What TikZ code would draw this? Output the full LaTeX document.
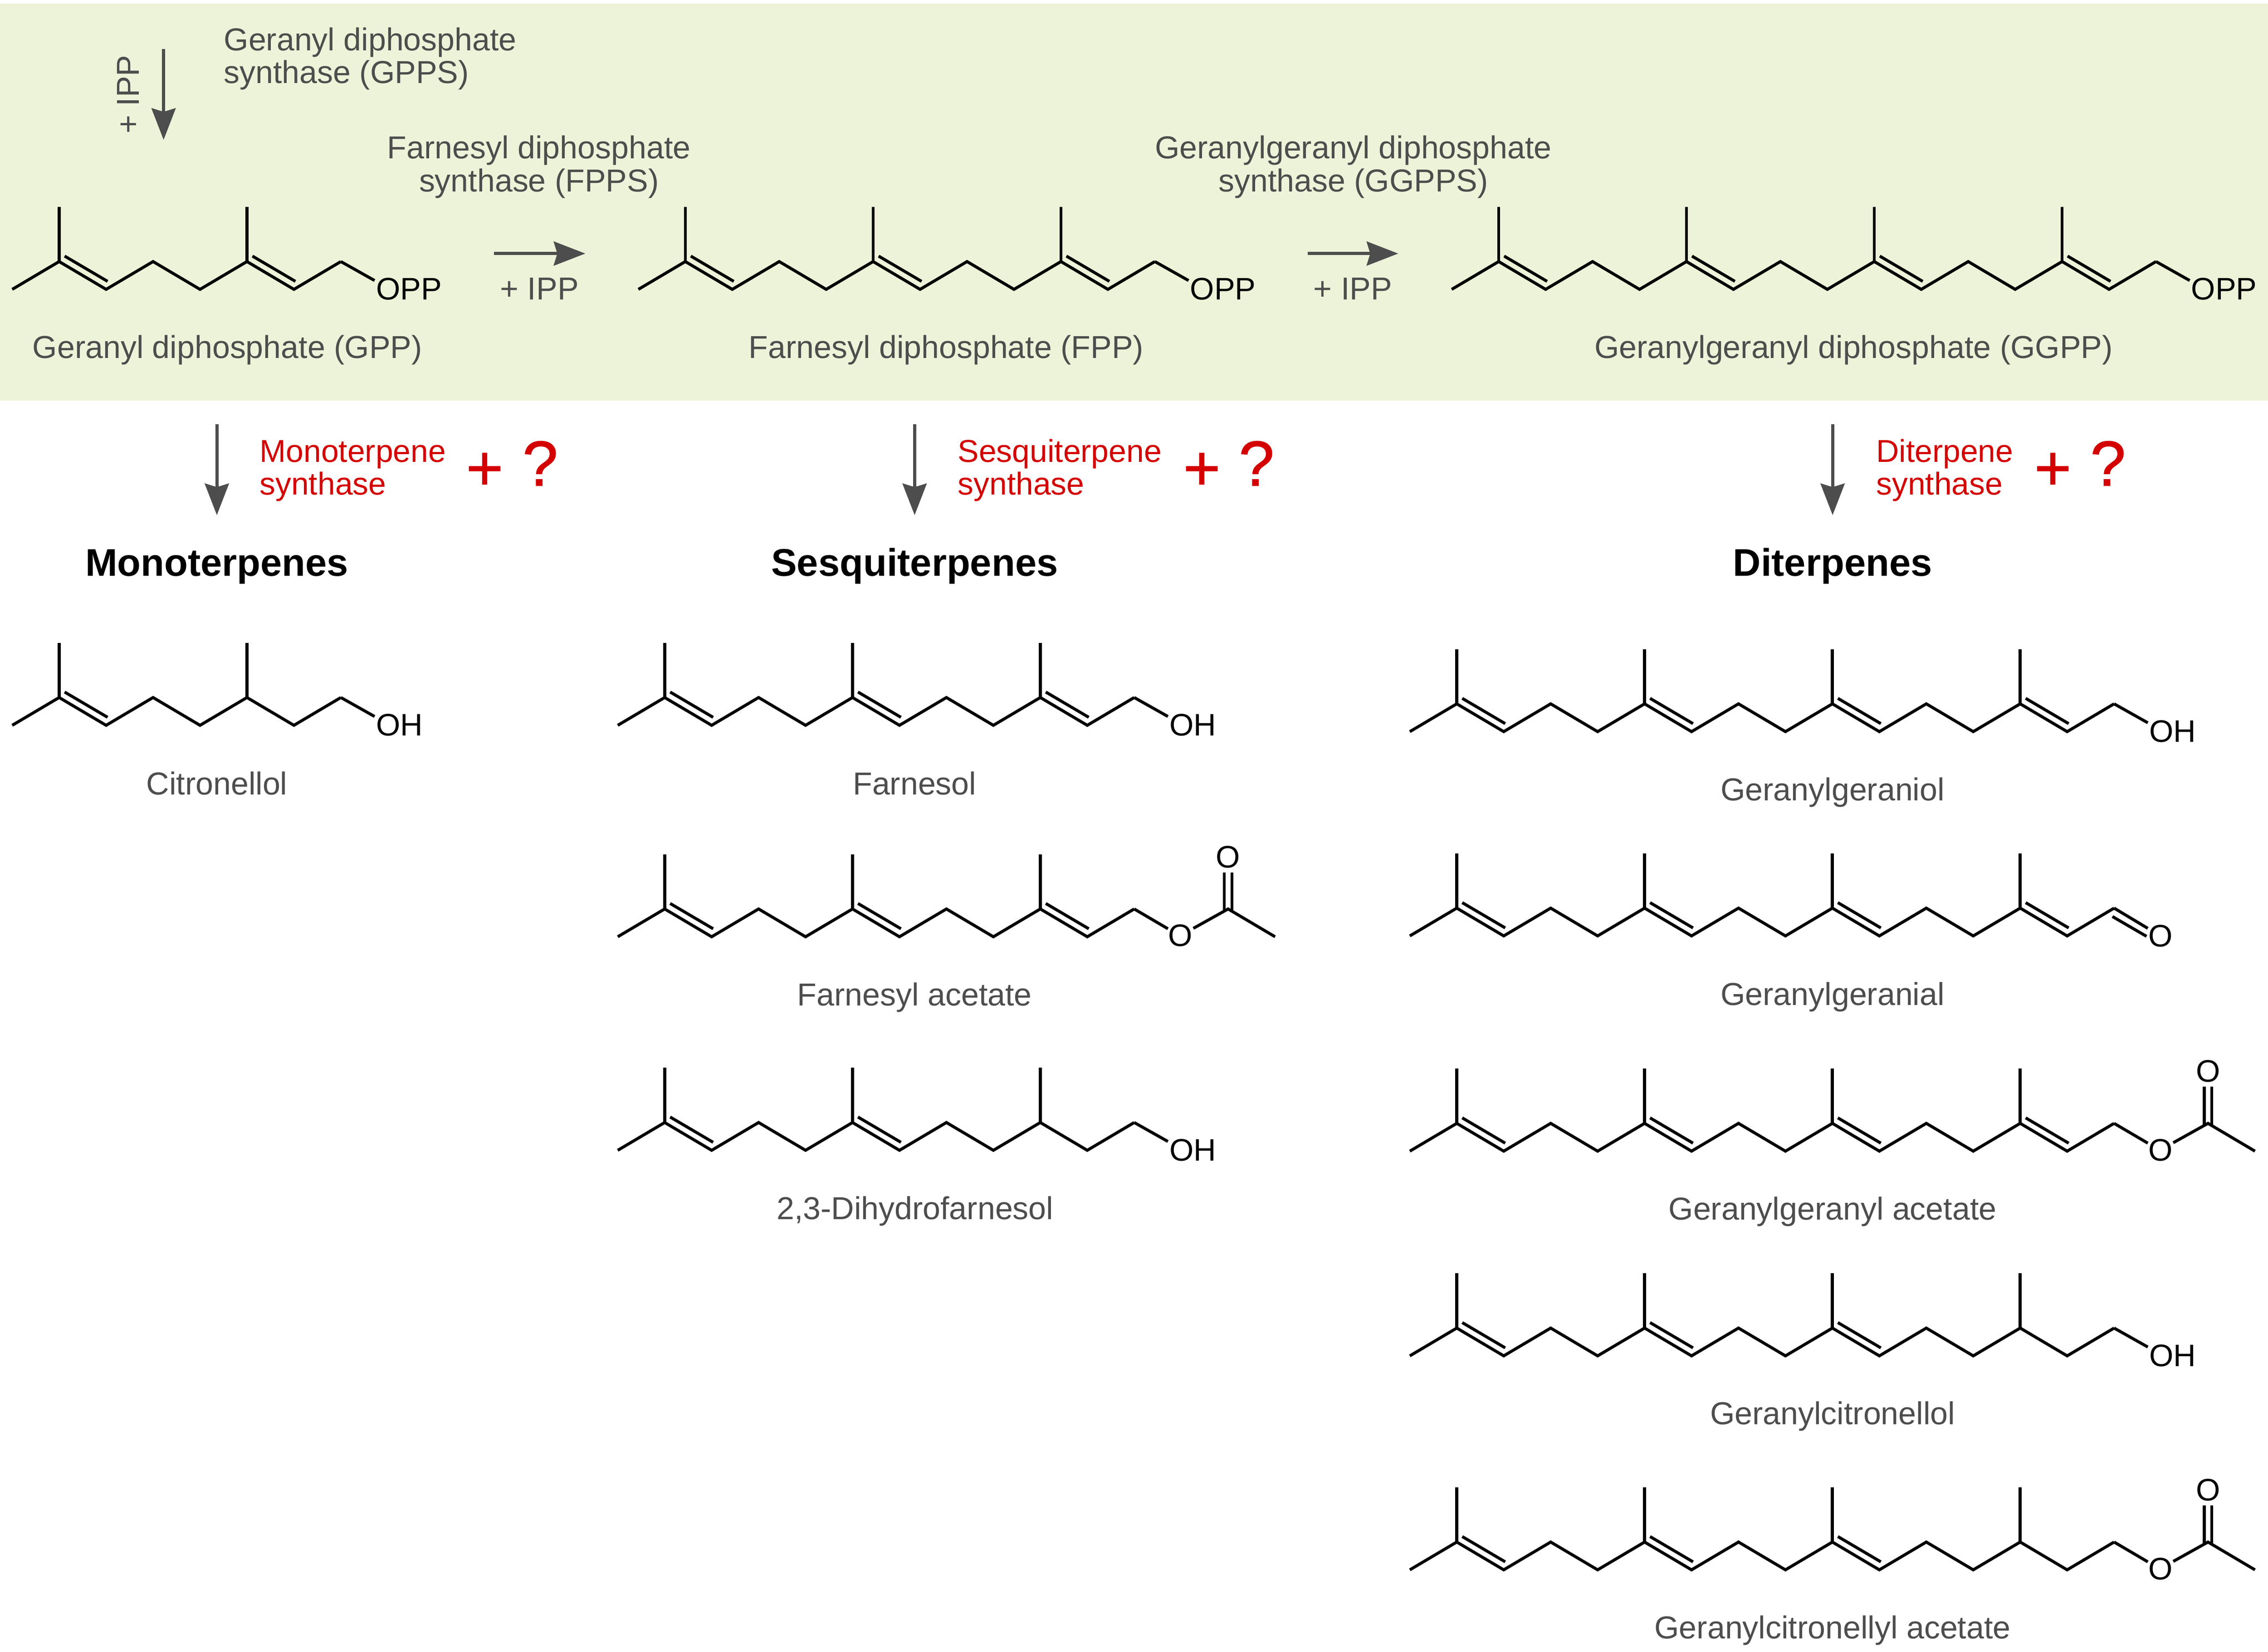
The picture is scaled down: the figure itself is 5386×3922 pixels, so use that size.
\documentclass[tikz,border=0pt]{standalone}
\usepackage{fontspec}
\setmainfont{Liberation Sans}
\newfontfamily\bigredfont[FakeBold=1]{Liberation Sans}
\usetikzlibrary{arrows.meta}
\definecolor{bandgreen}{HTML}{EDF3D8}
\definecolor{labelgrey}{HTML}{4D4D4D}
\definecolor{enzred}{HTML}{D40000}
\tikzset{
  bond/.style={line width=2pt,black,line cap=butt,line join=miter},
  rxn/.style={line width=2.15pt,labelgrey,-{Stealth[length=21.3pt,width=16.2pt,inset=2.4pt]}},
  chemname/.style={font=\fontsize{21.42}{22.2}\selectfont,text=labelgrey,inner sep=0pt,anchor=base},
  enzyme/.style={font=\fontsize{21.42}{22.2}\selectfont,text=labelgrey,inner sep=0pt,align=center,anchor=base},
  redenz/.style={font=\fontsize{21.34}{22.2}\selectfont,text=enzred,inner sep=0pt,align=left,anchor=base west},
  atom/.style={font=\fontsize{21}{22}\selectfont,text=black,inner sep=0pt},
  heading/.style={font=\fontsize{26}{27}\selectfont\bfseries,text=black,inner sep=0pt,anchor=base},
  bigred/.style={font=\bigredfont\fontsize{43}{46}\selectfont,text=enzred,inner sep=0pt,anchor=base},
}
% #1 x0, #2 low y, #3 last chain vertex, #4 vertices starting a C=C
\newcommand{\skeleton}[4]{%
  \begin{scope}[shift={(#1,#2)}]
    \draw[bond] (0,0) foreach \k in {1,...,#3}{ -- ({\k*111.5},{mod(\k,2)==1 ? -66 : 0}) };
    \foreach \k in {1,5,...,#3}
      \draw[bond] ({\k*111.5},-66) -- ({\k*111.5},-196);
    \foreach \k in {#4}
      \draw[bond] ({\k*111.5+13},-79) -- ({(\k+1)*111.5+3.5},-19);
  \end{scope}}
% #1 id, #2 x0, #3 low y, #4 last chain vertex, #5 text
\newcommand{\hetero}[5]{%
  \begin{scope}[shift={(#2,#3)}]
    \draw[bond] ({#4*111.5},-66) -- ({#4*111.5+80},-21);
    \node[atom,anchor=base west] (#1) at ({#4*111.5+83},25) {#5};
  \end{scope}}
\newcommand{\acetyl}[4]{%
  \begin{scope}[shift={(#2,#3)}]
    \draw[bond] ({#4*111.5},-66) -- ({#4*111.5+80},-19);
    \node[atom,anchor=base] (#1o) at ({(#4+1)*111.5-1.5},23) {O};
    \draw[bond] ({(#4+1)*111.5+29},-20) -- ({(#4+2)*111.5},-66) -- ({(#4+3)*111.5},0);
    \draw[bond] ({(#4+2)*111.5-9},-62) -- ({(#4+2)*111.5-9},-153);
    \draw[bond] ({(#4+2)*111.5+9},-62) -- ({(#4+2)*111.5+9},-153);
    \node[atom,anchor=base] (#1c) at ({(#4+2)*111.5},-164) {O};
  \end{scope}}
\newcommand{\aldehyde}[4]{%
  \begin{scope}[shift={(#2,#3)}]
    \draw[bond] ({#4*111.5},-66) -- ({#4*111.5+80},-18);
    \draw[bond] ({#4*111.5-4},-46) -- ({#4*111.5+77},1);
    \node[atom,anchor=base] (#1) at ({(#4+1)*111.5-1},26) {O};
  \end{scope}}
\begin{document}
\begin{tikzpicture}[x=0.01cm,y=-0.01cm]
\useasboundingbox (0,0) rectangle (5386,3922);
\fill[white] (0,0) rectangle (5386,3922);
\fill[bandgreen] (0,9) rectangle (5386,951);

% --- top row ---
\coordinate (gppsS) at (388.5,116); \coordinate (gppsE) at (388.5,332);
\draw[rxn] (gppsS) -- (gppsE);
\node[chemname,rotate=90] (ippv) at (330,224) {+ IPP};
\node[enzyme,align=left,anchor=base west] (gpps) at (531,198) {Geranyl diphosphate\\synthase (GPPS)};

\skeleton{29}{687}{7}{1,5}
\hetero{opp1}{29}{687}{7}{OPP}
\node[chemname] (gpp) at (540,850) {Geranyl diphosphate (GPP)};

\node[enzyme] (fpps) at (1280,455) {Farnesyl diphosphate\\synthase (FPPS)};
\coordinate (fS) at (1173,602); \coordinate (fE) at (1390,602);
\draw[rxn] (fS) -- (fE);
\node[chemname] (ipp1) at (1281,712) {+ IPP};

\skeleton{1516}{687}{11}{1,5,9}
\hetero{opp2}{1516}{687}{11}{OPP}
\node[chemname] (fpp) at (2247,850) {Farnesyl diphosphate (FPP)};

\node[enzyme] (ggpps) at (3214,455) {Geranylgeranyl diphosphate\\synthase (GGPPS)};
\coordinate (gS) at (3105,602); \coordinate (gE) at (3320.5,602);
\draw[rxn] (gS) -- (gE);
\node[chemname] (ipp2) at (3212.5,712) {+ IPP};

\skeleton{3447.5}{687}{15}{1,5,9,13}
\hetero{opp3}{3447.5}{687}{15}{OPP}
\node[chemname] (ggpp) at (4402,850) {Geranylgeranyl diphosphate (GGPP)};

% --- synthase arrows ---
\coordinate (mS) at (515,1007); \coordinate (mE) at (515,1223);
\draw[rxn] (mS) -- (mE);
\coordinate (sS) at (2172,1007); \coordinate (sE) at (2172,1223);
\draw[rxn] (sS) -- (sE);
\coordinate (dS) at (4352,1007); \coordinate (dE) at (4352,1223);
\draw[rxn] (dS) -- (dE);

\node[redenz] (ms) at (616,1175) {Monoterpene\\synthase};
\node[redenz] (ss) at (2274,1175) {Sesquiterpene\\synthase};
\node[redenz] (ds) at (4455,1175) {Diterpene\\synthase};
\node[bigred] (mp) at (1151,1163) {+};
\node[bigred] (mq) at (1283,1153) {?};
\node[bigred] (sp) at (2854,1163) {+};
\node[bigred] (sq) at (2984,1153) {?};
\node[bigred] (dp) at (4875,1163) {+};
\node[bigred] (dq) at (5006,1153) {?};

\node[heading] (hm) at (515,1368) {Monoterpenes};
\node[heading] (hs) at (2172,1368) {Sesquiterpenes};
\node[heading] (hd) at (4352,1368) {Diterpenes};

% --- monoterpenes ---
\skeleton{29}{1722}{7}{1}
\hetero{oh1}{29}{1722}{7}{OH}
\node[chemname] (citro) at (515,1887) {Citronellol};

% --- sesquiterpenes ---
\skeleton{1467}{1722}{11}{1,5,9}
\hetero{oh2}{1467}{1722}{11}{OH}
\node[chemname] (farnesol) at (2172,1887) {Farnesol};

\skeleton{1467}{2224}{11}{1,5,9}
\acetyl{fa}{1467}{2224}{11}
\node[chemname] (farnac) at (2172,2388) {Farnesyl acetate};

\skeleton{1467}{2731}{11}{1,5}
\hetero{oh3}{1467}{2731}{11}{OH}
\node[chemname] (dihydro) at (2173,2895) {2,3-Dihydrofarnesol};

% --- diterpenes ---
\skeleton{3348}{1737}{15}{1,5,9,13}
\hetero{oh4}{3348}{1737}{15}{OH}
\node[chemname] (ggol) at (4352,1901) {Geranylgeraniol};

\skeleton{3348}{2222}{15}{1,5,9,13}
\aldehyde{ald}{3348}{2222}{15}
\node[chemname] (ggal) at (4352,2386) {Geranylgeranial};

\skeleton{3348}{2733}{15}{1,5,9,13}
\acetyl{gga}{3348}{2733}{15}
\node[chemname] (ggac) at (4352,2896) {Geranylgeranyl acetate};

\skeleton{3348}{3219}{15}{1,5,9}
\hetero{oh5}{3348}{3219}{15}{OH}
\node[chemname] (gcol) at (4352,3382) {Geranylcitronellol};

\skeleton{3348}{3727}{15}{1,5,9}
\acetyl{gca}{3348}{3727}{15}
\node[chemname] (gcac) at (4352,3890) {Geranylcitronellyl acetate};
\end{tikzpicture}
\end{document}
